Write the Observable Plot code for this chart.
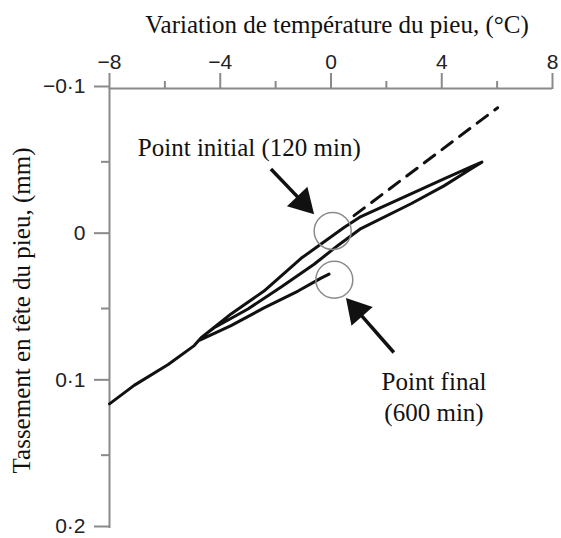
<!DOCTYPE html>
<html><head><meta charset="utf-8">
<script src="https://cdn.jsdelivr.net/npm/d3@7"></script>
<script src="https://cdn.jsdelivr.net/npm/@observablehq/plot@0.6"></script>
<style>body{margin:0;background:#fff;}</style>
</head><body><div id="chart"></div>
<script>
// ---- data ----
const xTicks = [-8, -4, 0, 4, 8];
const xTickLabels = ["−8", "−4", "0", "4", "8"];
const xMinorTicks = [-6, -2, 2, 6];
const yTicks = [-0.1, 0, 0.1, 0.2];
const yTickLabels = ["−0·1", "0", "0·1", "0·2"];
const yMinorTicks = [-0.05, 0.05, 0.15];

// measured thermal cycle path (temperature change °C, settlement mm)
const curveTemp = [-8.00, -7.11, -5.88, -4.94, -4.69, -3.61, -2.42, -1.08, 0.47, 1.08, 2.89, 4.08, 5.05, 5.45,
                   5.05, 4.08, 2.89, 1.08, 0.25, -0.61, -1.80, -3.00, -4.22, -4.51, -4.76, -3.61, -2.42, -1.19, -0.36, -0.07];
const curveSettle = [0.1150, 0.1024, 0.0882, 0.0753, 0.0699, 0.0537, 0.0381, 0.0158, -0.0052, -0.0127, -0.0282, -0.0384, -0.0465, -0.0498,
                     -0.0451, -0.0336, -0.0214, -0.0045, 0.0070, 0.0198, 0.0354, 0.0503, 0.0631, 0.0672, 0.0718, 0.0617, 0.0496, 0.0381, 0.0293, 0.0266];

// dashed extrapolation
const dashTemp = [0.83, 6.02];
const dashSettle = [-0.0133, -0.0869];

// annotation circles
const circleTemp = [0.06, 0.12];
const circleSettle = [-0.0028, 0.0304];

// annotation arrows
const arrowTailTemp = [-2.17, 2.27];
const arrowTailSettle = [-0.0451, 0.0800];
const arrowTipTemp = [-0.61, 0.54];
const arrowTipSettle = [-0.0143, 0.0428];

// annotation labels
const labelText = ["Point initial (120 min)", "Point final\n(600 min)"];
const labelTemp = [-2.95, 3.72];
const labelSettle = [-0.0539, 0.1267];

const xTitle = "Variation de température du pieu, (°C)";
const yTitle = "Tassement en tête du pieu, (mm)";

// ---- layout ----
const W = 561, H = 538, ML = 109, MR = 9, MT = 88, MB = 10;
const kx = (W - ML - MR) / 16, ky = (H - MT - MB) / 0.3;
const axisGray = "#8a8a8a";
const serif = "Liberation Serif, Times New Roman, serif";

const curve = curveTemp.map((t, i) => ({t, s: curveSettle[i]}));
const dash = dashTemp.map((t, i) => ({t, s: dashSettle[i]}));
const circles = circleTemp.map((t, i) => ({t, s: circleSettle[i]}));
const labels = labelText.map((text, i) => ({text, t: labelTemp[i], s: labelSettle[i]}));

const HEAD_R = 10.5;
const arrows = arrowTailTemp.map((t0, i) => {
  const t1 = arrowTipTemp[i], s0 = arrowTailSettle[i], s1 = arrowTipSettle[i];
  const dx = (t1 - t0) * kx, dy = (s1 - s0) * ky;
  const len = Math.hypot(dx, dy), ux = dx / len, uy = dy / len;
  const off = 1.555 * HEAD_R;
  return {
    t0, s0, t1, s1,
    ct: t1 - ux * off / kx,
    cs: s1 - uy * off / ky,
    rot: Math.atan2(ux, -uy) * 180 / Math.PI
  };
});

const fmtX = d => xTickLabels[xTicks.indexOf(d)];
const fmtY = d => yTickLabels[yTicks.indexOf(d)];

const chart = Plot.plot({
  width: W, height: H,
  marginLeft: ML, marginRight: MR, marginTop: MT, marginBottom: MB,
  style: {fontFamily: "Liberation Sans, Arial, sans-serif", fontSize: "21px", background: "white", color: "#222", overflow: "visible"},
  x: {domain: [-8, 8]},
  y: {domain: [-0.1, 0.2], reverse: true},
  marks: [
    Plot.ruleY([-0.1], {stroke: axisGray, strokeWidth: 2}),
    Plot.ruleX([-8], {stroke: axisGray, strokeWidth: 2}),
    Plot.axisX(xTicks, {anchor: "top", tickSize: 16, tickPadding: 4, tickFormat: fmtX, label: null,
      stroke: axisGray, strokeWidth: 2, fill: "#222", fontSize: 21}),
    Plot.axisX(xMinorTicks, {anchor: "top", tickSize: 8, tickFormat: () => "", label: null,
      stroke: axisGray, strokeWidth: 2}),
    Plot.axisY(yTicks, {anchor: "left", tickSize: 15, tickPadding: 9, tickFormat: fmtY, label: null,
      stroke: axisGray, strokeWidth: 2, fill: "#222", fontSize: 21, dy: -2}),
    Plot.axisY(yMinorTicks, {anchor: "left", tickSize: 8, tickFormat: () => "", label: null,
      stroke: axisGray, strokeWidth: 2}),
    Plot.text([xTitle], {frameAnchor: "top", dx: 6, dy: -56, lineAnchor: "bottom", textAnchor: "middle",
      fontFamily: serif, fontSize: 25, fill: "#111"}),
    Plot.text([yTitle], {frameAnchor: "left", rotate: -90, dx: -88, dy: 2, textAnchor: "middle",
      fontFamily: serif, fontSize: 25, fill: "#111"}),
    Plot.line(dash, {x: "t", y: "s", stroke: "#111", strokeWidth: 3, strokeDasharray: "13,9"}),
    Plot.line(curve, {x: "t", y: "s", stroke: "#111", strokeWidth: 3, strokeLinejoin: "round", strokeLinecap: "round"}),
    Plot.dot(circles, {x: "t", y: "s", r: 18.5, stroke: "#8a8a8a", strokeWidth: 1.5, fill: "none"}),
    Plot.link(arrows, {x1: "t0", y1: "s0", x2: "ct", y2: "cs", stroke: "#111", strokeWidth: 3.5}),
    Plot.dot(arrows, {x: "ct", y: "cs", r: HEAD_R, symbol: "triangle", fill: "#111", stroke: "none", rotate: "rot"}),
    Plot.text(labels, {x: "t", y: "s", text: "text", lineAnchor: "bottom", lineHeight: 1.25,
      fontFamily: serif, fontSize: 25, fill: "#111"})
  ]
});
document.getElementById("chart").appendChild(chart);
</script>
</body></html>
